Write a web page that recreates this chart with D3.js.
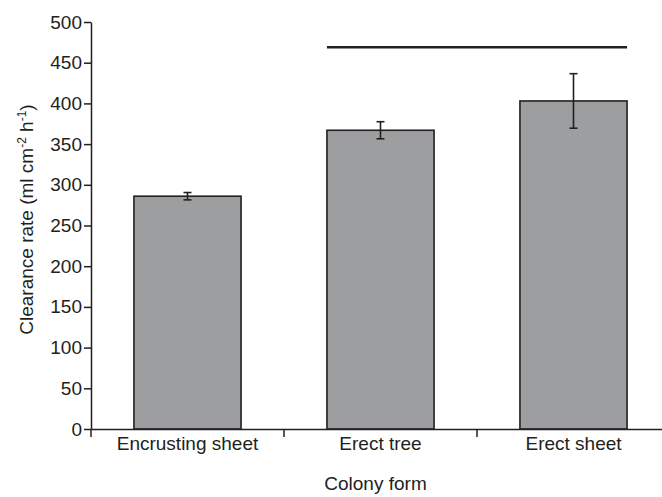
<!DOCTYPE html>
<html>
<head>
<meta charset="utf-8">
<script src="https://cdn.jsdelivr.net/npm/d3@7"></script>
<style>
  body { margin: 0; background: #fff; }
  svg text { font-family: "Liberation Sans", Arial, Helvetica, sans-serif; fill: #231f20; }
  .axis path, .axis line { stroke: #231f20; stroke-width: 1.5; }
</style>
</head>
<body>
<div id="chart"></div>
<script>
// values
var categories = ["Encrusting sheet", "Erect tree", "Erect sheet"];
var means = [286, 367, 403];
var errors = [4.5, 10.5, 33.5];
var yTicks = [0, 50, 100, 150, 200, 250, 300, 350, 400, 450, 500];
var sigLevel = 469;          // the bar drawn over Erect tree / Erect sheet
var sigGroups = ["Erect tree", "Erect sheet"];

var W = 662, H = 497;
var margin = {top: 22, left: 91, bottom: 68};
var plotW = 579,
    plotH = H - margin.top - margin.bottom;

var svg = d3.select("#chart").append("svg")
    .attr("width", W)
    .attr("height", H);

var g = svg.append("g")
    .attr("transform", "translate(" + margin.left + "," + margin.top + ")");

var x = d3.scaleBand()
    .domain(categories)
    .range([0, plotW])
    .paddingInner(0.445)
    .paddingOuter(0.2225);

var y = d3.scaleLinear()
    .domain([0, 500])
    .range([plotH, 0]);

var data = categories.map(function(c, i){
    return {cat: c, mean: means[i], err: errors[i]};
});

// bars
g.selectAll(".bar")
    .data(data)
    .enter().append("rect")
    .attr("class", "bar")
    .attr("x", function(d){ return x(d.cat); })
    .attr("y", function(d){ return y(d.mean); })
    .attr("width", x.bandwidth())
    .attr("height", function(d){ return y(0) - y(d.mean); })
    .attr("fill", "#9d9ea0")
    .attr("stroke", "#231f20")
    .attr("stroke-width", 1.6);

// error bars
var capW = 4;
var eb = g.selectAll(".err")
    .data(data)
    .enter().append("g")
    .attr("class", "err")
    .attr("stroke", "#231f20")
    .attr("stroke-width", 1.6);

eb.append("line")
    .attr("x1", function(d){ return x(d.cat) + x.bandwidth()/2; })
    .attr("x2", function(d){ return x(d.cat) + x.bandwidth()/2; })
    .attr("y1", function(d){ return y(d.mean - d.err); })
    .attr("y2", function(d){ return y(d.mean + d.err); });

[-1, 1].forEach(function(s){
    eb.append("line")
        .attr("x1", function(d){ return x(d.cat) + x.bandwidth()/2 - capW; })
        .attr("x2", function(d){ return x(d.cat) + x.bandwidth()/2 + capW; })
        .attr("y1", function(d){ return y(d.mean + s*d.err); })
        .attr("y2", function(d){ return y(d.mean + s*d.err); });
});

// significance line
g.append("line")
    .attr("x1", x(sigGroups[0]))
    .attr("x2", x(sigGroups[1]) + x.bandwidth())
    .attr("y1", y(sigLevel))
    .attr("y2", y(sigLevel))
    .attr("stroke", "#231f20")
    .attr("stroke-width", 2.6);

// y axis
var yAxis = g.append("g")
    .attr("class", "axis y-axis")
    .call(d3.axisLeft(y).tickValues(yTicks).tickSize(7).tickSizeOuter(0).tickPadding(2));
yAxis.selectAll("text").style("font-size", "19px").attr("fill", "#231f20");

// x axis: labels under bands, ticks at band edges
var xAxis = g.append("g")
    .attr("class", "axis x-axis")
    .attr("transform", "translate(0," + plotH + ")")
    .call(d3.axisBottom(x).tickSize(0).tickSizeOuter(0).tickPadding(8));
xAxis.selectAll(".tick line").remove();
xAxis.selectAll("text").style("font-size", "19px").attr("fill", "#231f20");

var half = (x.step() - x.bandwidth()) / 2;
xAxis.selectAll(".edge")
    .data(categories)
    .enter().append("line")
    .attr("class", "edge")
    .attr("x1", function(d){ return x(d) - half; })
    .attr("x2", function(d){ return x(d) - half; })
    .attr("y1", 0)
    .attr("y2", 8);

// axis titles
svg.append("text")
    .attr("x", margin.left + plotW/2 - 5)
    .attr("y", 490)
    .attr("text-anchor", "middle")
    .style("font-size", "19px")
    .text("Colony form");

var yt = svg.append("text")
    .attr("transform", "translate(33," + (margin.top + plotH/2 - 6) + ") rotate(-90)")
    .attr("text-anchor", "middle")
    .style("font-size", "19px");
yt.append("tspan").text("Clearance rate (ml cm");
yt.append("tspan").attr("dy", -7).style("font-size", "12px").text("-2");
yt.append("tspan").attr("dy", 7).text(" h");
yt.append("tspan").attr("dy", -7).style("font-size", "12px").text("-1");
yt.append("tspan").attr("dy", 7).text(")");
</script>
</body>
</html>
